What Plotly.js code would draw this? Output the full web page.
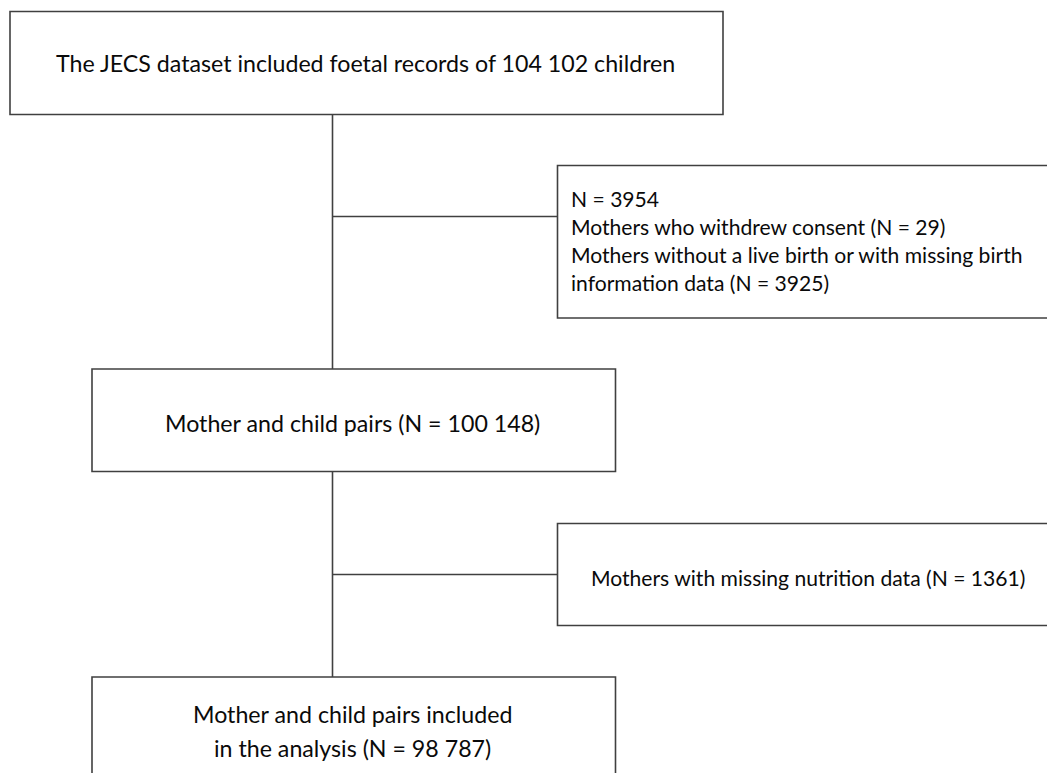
<!DOCTYPE html>
<html>
<head>
<meta charset="utf-8">
<script src="https://cdn.plot.ly/plotly-3.0.1.min.js"></script>
<style>
  html, body { margin: 0; padding: 0; background: #ffffff; }
  #chart { width: 1047px; height: 773px; }
</style>
</head>
<body>
<div id="chart"></div>
<script>
// ---- content (flow chart steps) ----
const stepLabels = [
  "The JECS dataset included foetal records of 104 102 children",
  "Mother and child pairs (N = 100 148)",
  "Mother and child pairs included<br>in the analysis (N = 98 787)"
];
const exclusionLabels = [
  "N = 3954<br>Mothers who withdrew consent (N = 29)<br>Mothers without a live birth or with missing birth<br>information data (N = 3925)",
  "Mothers with missing nutrition data (N = 1361)"
];
const stepCounts = [104102, 100148, 98787];
const exclusionCounts = [3954, 1361];

// ---- geometry (pixel-like coordinates in axis units) ----
const stepBoxes = [
  {x0: 10,  x1: 723, y0: 11.5, y1: 114.5, ty: 63, lh: 33.5},
  {x0: 92,  x1: 615.5, y0: 369, y1: 471.5, ty: 422.5, lh: 33.5},
  {x0: 92,  x1: 615.5, y0: 677, y1: 820, ty: 731, lh: 33.5}
];
const exclBoxes = [
  {x0: 557.5, x1: 1070, y0: 165.5, y1: 318, ty: 240, lh: 28, align: "left", tx: 569},
  {x0: 557.5, x1: 1058.5, y0: 523.5, y1: 625.5, ty: 577, lh: 28, align: "center"}
];
const spineX = 332.5;
const branchY = [216.5, 574.5];

const lineColor = "#404040";
const lineW = 1.6;
const fontFam = "Lato, 'Noto Sans', sans-serif";
const mainFont = 23.2;
const sideFont = 21.1;
const textColor = "#0a0a0a";

const shapes = [];
stepBoxes.concat(exclBoxes).forEach(b => shapes.push({type: "rect", xref: "x", yref: "y",
  x0: b.x0, x1: b.x1, y0: b.y0, y1: b.y1, line: {color: lineColor, width: lineW}, fillcolor: "rgba(0,0,0,0)"}));
// vertical connectors
for (let i = 0; i < stepBoxes.length - 1; i++) {
  shapes.push({type: "line", xref: "x", yref: "y", x0: spineX, x1: spineX,
    y0: stepBoxes[i].y1, y1: stepBoxes[i + 1].y0, line: {color: lineColor, width: lineW}});
}
// branches to exclusion boxes
branchY.forEach((y, i) => shapes.push({type: "line", xref: "x", yref: "y",
  x0: spineX, x1: exclBoxes[i].x0, y0: y, y1: y, line: {color: lineColor, width: lineW}}));

const annotations = [];
function addLines(text, b, size, align, x) {
  const lines = text.split("<br>");
  const n = lines.length;
  lines.forEach((ln, k) => {
    const y = b.ty + (k - (n - 1) / 2) * b.lh;
    annotations.push({xref: "x", yref: "y", x: x, y: y, text: ln, showarrow: false,
      xanchor: align === "left" ? "left" : "center", yanchor: "middle", align: align,
      font: {family: fontFam, size: size, color: textColor}});
  });
}
stepLabels.forEach((t, i) => {
  const b = stepBoxes[i];
  addLines(t, b, mainFont, "center", (b.x0 + b.x1) / 2 - 1.5);
});
exclusionLabels.forEach((t, i) => {
  const b = exclBoxes[i];
  if (b.align === "left") addLines(t, b, sideFont, "left", b.tx);
  else addLines(t, b, sideFont, "center", (b.x0 + b.x1) / 2);
});

const layout = {
  width: 1047, height: 773,
  margin: {l: 0, r: 0, t: 0, b: 0},
  paper_bgcolor: "#ffffff", plot_bgcolor: "#ffffff",
  xaxis: {range: [0, 1047], visible: false, fixedrange: true},
  yaxis: {range: [773, 0], visible: false, fixedrange: true},
  showlegend: false,
  shapes: shapes,
  annotations: annotations
};

Plotly.newPlot("chart", [{x: [], y: [], type: "scatter", mode: "markers", hoverinfo: "skip"}], layout,
  {displayModeBar: false, staticPlot: true});
</script>
</body>
</html>
